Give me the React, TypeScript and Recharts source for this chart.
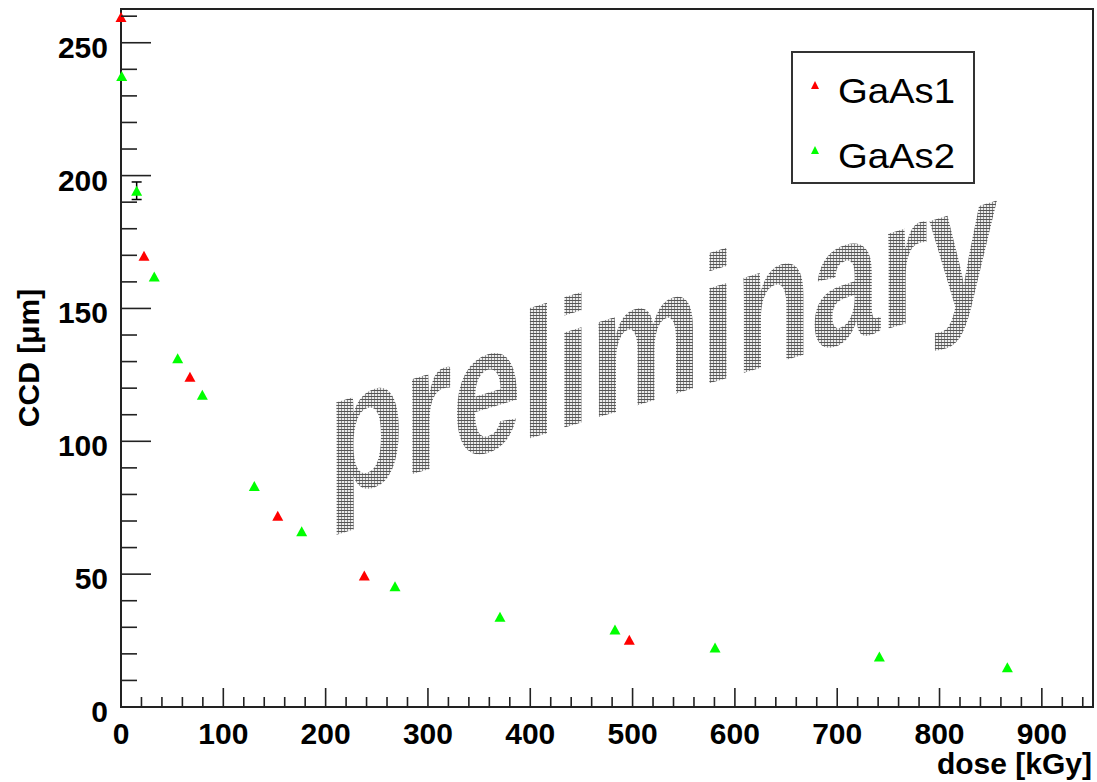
import React from 'react';
import {
  ScatterChart,
  Scatter,
  XAxis,
  YAxis,
  ErrorBar,
  ReferenceArea,
  Legend,
} from 'recharts';

// GaAs1 sample: charge collection distance vs. dose
const gaas1Dose = [0, 22.5, 67.4, 153.2, 237.8, 496.8];
const gaas1Ccd = [259.7, 169.8, 124.3, 72.0, 49.5, 25.3];

// GaAs2 sample
const gaas2Dose = [0.7, 15.3, 32.5, 55.4, 79.5, 130.3, 176.6, 267.8, 370.4, 482.8, 580.6, 741.2, 866.3];
const gaas2Ccd = [237.5, 194.3, 162.0, 131.3, 117.5, 83.2, 66.1, 45.4, 34.0, 29.2, 22.4, 19.0, 15.0];
const gaas2Err: (number | null)[] = [null, 3.3, null, null, null, null, null, null, null, null, null, null, null];

const seriesNames = ['GaAs1', 'GaAs2'];
const seriesColors = ['#ff0000', '#00ff00'];

// axis ticks: majors are labelled, minors are just marks
const xTicks = Array.from({ length: 48 }, (_, i) => i * 20);
const yTicks = Array.from({ length: 27 }, (_, i) => i * 10);
const xMax = 950;
const yMax = 262.7;

const gaas1 = gaas1Dose.map((d, i) => ({ dose: d, ccd: gaas1Ccd[i] }));
const gaas2 = gaas2Dose.map((d, i) => ({ dose: d, ccd: gaas2Ccd[i], err: gaas2Err[i] }));

const FONT = '"Liberation Sans", Arial, Helvetica, sans-serif';
const AXIS = '#222';

const Triangle = (props: any) => {
  const { cx, cy, fill } = props;
  if (cx == null || cy == null) return null;
  const pts = `${cx},${cy - 5} ${cx - 5.5},${cy + 5} ${cx + 5.5},${cy + 5}`;
  return <polygon points={pts} fill={fill} />;
};

const YTick = (props: any) => {
  const { x, y, payload } = props;
  const v = payload.value as number;
  const major = v % 50 === 0;
  const len = major ? 30 : 16;
  return (
    <g>
      <line x1={x} y1={y} x2={x + len} y2={y} stroke={AXIS} strokeWidth={1.6} />
      {major && (
        <text
          x={x - 13}
          y={y + 15}
          textAnchor="end"
          fontFamily={FONT}
          fontWeight="bold"
          fontSize={30}
          fill="#000"
        >
          {v}
        </text>
      )}
    </g>
  );
};

const XTick = (props: any) => {
  const { x, y, payload } = props;
  const v = payload.value as number;
  const major = v % 100 === 0;
  const len = major ? 19 : 10;
  return (
    <g>
      <line x1={x} y1={y} x2={x} y2={y - len} stroke={AXIS} strokeWidth={1.6} />
      {major && (
        <text
          x={x}
          y={y + 37}
          textAnchor="middle"
          fontFamily={FONT}
          fontWeight="bold"
          fontSize={30}
          fill="#000"
        >
          {v}
        </text>
      )}
    </g>
  );
};

const YTitle = (props: any) => {
  const vb = props.viewBox || {};
  const cy = (vb.y ?? 0) + (vb.height ?? 0) / 2;
  const bx = 39;
  return (
    <text
      x={bx}
      y={cy}
      transform={`rotate(-90, ${bx}, ${cy})`}
      textAnchor="middle"
      fontFamily={FONT}
      fontWeight="bold"
      fontSize={30}
      fill="#000"
    >
      CCD [μm]
    </text>
  );
};

const XTitle = (props: any) => {
  const vb = props.viewBox || {};
  const right = (vb.x ?? 0) + (vb.width ?? 0) - 1;
  return (
    <text
      x={right}
      y={774}
      textAnchor="end"
      fontFamily={FONT}
      fontWeight="bold"
      fontSize={30}
      fill="#000"
    >
      dose [kGy]
    </text>
  );
};

const LegendBox = () => (
  <svg width={184} height={133} style={{ display: 'block' }}>
    <rect x={1} y={1} width={182} height={131} fill="#fff" stroke="#333" strokeWidth={2} />
    {seriesNames.map((name, i) => {
      const my = 34 + i * 65;
      return (
        <g key={name}>
          <polygon
            points={`${24},${my - 4} ${20},${my + 4} ${28},${my + 4}`}
            fill={seriesColors[i]}
          />
          <text
            x={47}
            y={52 + i * 65}
            fontFamily={FONT}
            fontSize={35}
            textLength={117}
            lengthAdjust="spacingAndGlyphs"
            fill="#000"
          >
            {name}
          </text>
        </g>
      );
    })}
  </svg>
);

// stippled "preliminary" stamp behind the data
const Watermark = () => {
  const skew = -17;
  const sx = 0.69;
  return (
    <svg
      width={1097}
      height={782}
      style={{ position: 'absolute', left: 0, top: 0 }}
    >
      <defs>
        <pattern
          id="stipple"
          width={3}
          height={3}
          patternUnits="userSpaceOnUse"
          patternTransform={`scale(${1 / sx}, 1) skewY(${-skew})`}
        >
          <rect x={1} y={0} width={1} height={3} fill="#555" />
          <rect x={0} y={1} width={3} height={1} fill="#555" />
        </pattern>
      </defs>
      <text
        transform={`translate(328, 500) skewY(${skew}) scale(${sx}, 1)`}
        x={0}
        y={0}
        fontFamily={FONT}
        fontWeight="bold"
        fontSize={180}
        fill="url(#stipple)"
      >
        preliminary
      </text>
    </svg>
  );
};

export default function App() {
  return (
    <div
      style={{
        position: 'absolute',
        left: 0,
        top: 0,
        width: 1097,
        height: 782,
        background: '#fff',
      }}
    >
      <Watermark />
      <div style={{ position: 'absolute', left: 0, top: 0 }}>
        <ScatterChart
          width={1097}
          height={782}
          margin={{ top: 9, right: 4, bottom: 0, left: 0 }}
        >
          <XAxis
            type="number"
            dataKey="dose"
            domain={[0, xMax]}
            ticks={xTicks}
            interval={0}
            tickSize={0}
            tickMargin={0}
            tick={<XTick />}
            tickLine={false}
            axisLine={{ stroke: AXIS, strokeWidth: 2 }}
            height={75}
            label={<XTitle />}
          />
          <YAxis
            type="number"
            dataKey="ccd"
            domain={[0, yMax]}
            ticks={yTicks}
            interval={0}
            tickSize={0}
            tickMargin={0}
            tick={<YTick />}
            tickLine={false}
            axisLine={{ stroke: AXIS, strokeWidth: 2 }}
            width={121}
            label={<YTitle />}
          />
          <ReferenceArea
            x1={0}
            x2={xMax}
            y1={0}
            y2={yMax}
            fill="none"
            fillOpacity={0}
            stroke={AXIS}
            strokeWidth={2}
            ifOverflow="visible"
          />
          <Legend
            layout="horizontal"
            verticalAlign="middle"
            align="center"
            content={<LegendBox />}
            wrapperStyle={{ position: 'absolute', left: 791, top: 51, width: 184, height: 133 }}
          />
          <Scatter
            name={seriesNames[0]}
            data={gaas1}
            fill={seriesColors[0]}
            shape={<Triangle />}
            isAnimationActive={false}
          />
          <Scatter
            name={seriesNames[1]}
            data={gaas2}
            fill={seriesColors[1]}
            shape={<Triangle />}
            isAnimationActive={false}
          >
            <ErrorBar dataKey="err" direction="y" width={5} stroke="#000" strokeWidth={1.5} />
          </Scatter>
        </ScatterChart>
      </div>
    </div>
  );
}
